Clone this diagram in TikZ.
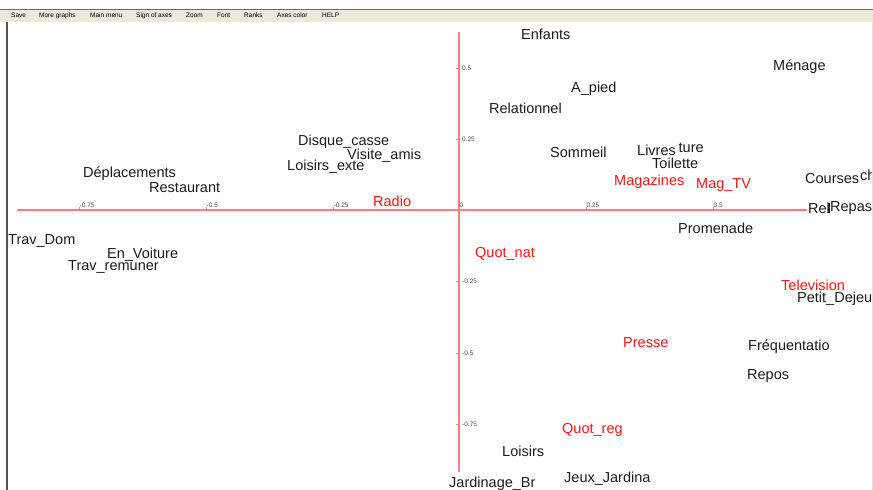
\documentclass[tikz,border=0pt]{standalone}
\usepackage{fontspec}
\setmainfont{Liberation Sans}
\definecolor{axisred}{RGB}{255,125,125}
\definecolor{labelred}{RGB}{255,20,20}
\definecolor{inkblack}{RGB}{28,28,28}
\definecolor{menubar}{RGB}{236,233,216}
\definecolor{menuline}{RGB}{105,105,105}
\begin{document}
\begin{tikzpicture}[x=1pt,y=-1pt,
  lbl/.style={anchor=base west, inner sep=0pt, font=\fontsize{14.5}{16}\selectfont, text=inkblack},
  rlbl/.style={lbl, text=labelred},
  cover/.style={fill=white, inner sep=1pt},
  ticklbl/.style={anchor=base west, inner sep=0pt, font=\fontsize{6.5}{7}\selectfont, text=black!70},
  menuitem/.style={anchor=base west, inner sep=0pt, font=\fontsize{6.5}{7}\selectfont, text=black},
  axisline/.style={draw=axisred, line width=1.1pt},
  tickmark/.style={draw=axisred, line width=0.6pt}
]
\useasboundingbox (0,0) rectangle (873,490);
\fill[white] (0,0) rectangle (873,490);

% window chrome: menu bar and frame
\fill[menubar] (0,10) rectangle (873,22);
\draw[menuline, line width=1.3pt] (0,9.5) -- (873,9.5);
\draw[menuline!80!black, line width=1.5pt] (7,22) -- (7,490);
\draw[black!12, line width=1pt] (872,22) -- (872,490);

\node[menuitem] (mSave)  at (11,17.5)  {Save};
\node[menuitem] (mMore)  at (39,17.5)  {More graphs};
\node[menuitem] (mMain)  at (90,17.5)  {Main menu};
\node[menuitem] (mSign)  at (136,17.5) {Sign of axes};
\node[menuitem] (mZoom)  at (186,17.5) {Zoom};
\node[menuitem] (mFont)  at (217,17.5) {Font};
\node[menuitem] (mRanks) at (244,17.5) {Ranks};
\node[menuitem] (mAxes)  at (277,17.5) {Axes color};
\node[menuitem] (mHelp)  at (322,17.5) {HELP};

% axes
\coordinate (xL) at (17,210);
\coordinate (xR) at (807,210);
\coordinate (yT) at (459,32);
\coordinate (yB) at (459,472);
\draw[axisline] (xL) -- (xR);
\draw[axisline] (yT) -- (yB);

% ticks on the horizontal axis (0.25 = 127 units)
\foreach \tx/\tl in {79/-0.75, 206/-0.5, 333/-0.25, 459/0, 586/0.25, 713/0.5}{
  \draw[tickmark] (\tx,207) -- (\tx,210);
  \node[ticklbl] at (\tx+0.5,207) {\tl};
}
% ticks on the vertical axis (0.25 = 71 units)
\foreach \ty/\tl in {68/0.5, 139/0.25, 281/-0.25, 353/-0.5, 424/-0.75}{
  \draw[tickmark] (456,\ty) -- (459,\ty);
  \node[ticklbl] at (462,\ty+2.3) {\tl};
}

\begin{scope}
\clip (8,22) rectangle (871,490);
% black variable labels
\node[lbl] (enfants)  at (521,39)  {Enfants};
\node[lbl] (apied)    at (571,92)  {A\_pied};
\node[lbl] (menage)   at (773,70)  {Ménage};
\node[lbl] (relat)    at (489,113) {Relationnel};
\node[lbl] (visite)   at (347,159) {Visite\_amis};
\node[lbl] (disque)   at (298,145) {Disque\_casse};
\node[lbl] (loisext)  at (287,170) {Loisirs\_exte};
\node[lbl] (sommeil)  at (550,157) {Sommeil};
\node[lbl] (turefrag) at (678.5,152) {ture};
\node[lbl] (livres)   at (637,155) {Livres};
\node[lbl] (toilette) at (652,168) {Toilette};
\node[lbl] (chfrag)   at (860,180) {ch};
\node[lbl] (courses)  at (805,183) {Courses};
\node[lbl] (deplac)   at (83,177)  {Déplacements};
\node[lbl] (restau)   at (149,192) {Restaurant};
\node[lbl] (relfrag)  at (808,213) {Rel};
\draw[inkblack, line width=1.2pt] (829,203) -- (829,213);
\node[lbl] (repas)    at (830,211) {Repas};
\node[lbl] (promen)   at (678,233) {Promenade};
\node[lbl] (travdom)  at (8,244)   {Trav\_Dom};
\node[lbl] (voiture)  at (107,258) {En\_Voiture};
\node[lbl] (travrem)  at (68,270)  {Trav\_remuner};
\node[lbl] (petitdej) at (797,302) {Petit\_Dejeu};
\node[lbl] (frequent) at (748,350) {Fréquentatio};
\node[lbl] (repos)    at (747,379) {Repos};
\node[lbl] (loisirs)  at (502,456) {Loisirs};
\node[lbl] (jardin)   at (449,487) {Jardinage\_Br};
\node[lbl] (jeux)     at (564,482) {Jeux\_Jardina};

% red supplementary labels
\node[rlbl] (magaz)   at (614,185) {Magazines};
\node[rlbl] (magtv)   at (696,188) {Mag\_TV};
\node[rlbl] (radio)   at (373,206) {Radio};
\node[rlbl] (quotnat) at (475,257) {Quot\_nat};
\node[rlbl, cover] (telev) at (780,290) {Television};
\node[rlbl] (presse)  at (623,347) {Presse};
\node[rlbl] (quotreg) at (562,433) {Quot\_reg};
\end{scope}
\end{tikzpicture}
\end{document}
